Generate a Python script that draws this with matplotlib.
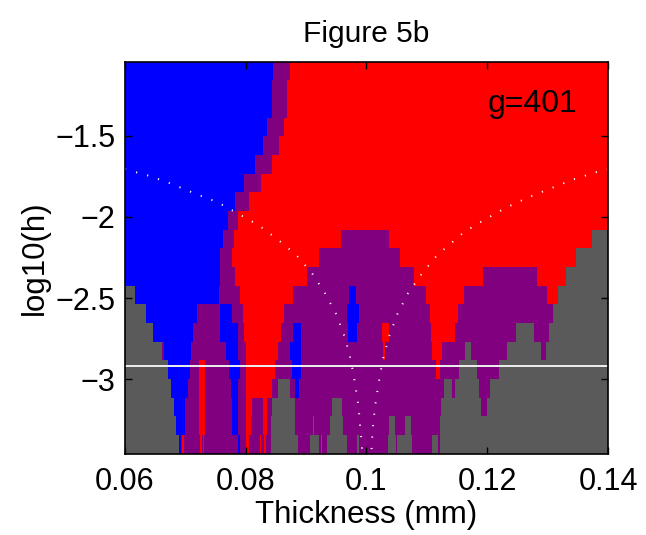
import numpy as np
import matplotlib
matplotlib.use("Agg")
import matplotlib.pyplot as plt
from matplotlib.colors import ListedColormap

plt.rcParams['font.family'] = ['Liberation Sans', 'DejaVu Sans']

# Thickness samples (g = 401 grid points) and log10(h) rows
thickness = np.linspace(0.06, 0.14, 401)
log10_h = [-1.100, -1.215, -1.330, -1.445, -1.560, -1.675, -1.790,
           -1.905, -2.020, -2.135, -2.250, -2.365, -2.480, -2.595,
           -2.710, -2.825, -2.940, -3.055, -3.170, -3.285, -3.400]

# Region classes: G = gray, B = blue, R = red, P = purple
class_order = ['G', 'B', 'R', 'P']
class_colors = ['#5a5a5a', '#0000ff', '#ff0000', '#800080']

# Each row: runs of (upper thickness bound, class), top row first
rows = [
    [(0.0845, 'B'), (0.0872, 'P'), (0.14, 'R')],
    [(0.0843, 'B'), (0.0869, 'P'), (0.14, 'R')],
    [(0.0842, 'B'), (0.0868, 'P'), (0.14, 'R')],
    [(0.0835, 'B'), (0.0863, 'P'), (0.14, 'R')],
    [(0.0829, 'B'), (0.0855, 'P'), (0.14, 'R')],
    [(0.0815, 'B'), (0.0843, 'P'), (0.14, 'R')],
    [(0.0797, 'B'), (0.0825, 'P'), (0.14, 'R')],
    [(0.0782, 'B'), (0.0804, 'P'), (0.14, 'R')],
    [(0.0770, 'B'), (0.0787, 'P'), (0.14, 'R')],
    [(0.0762, 'B'), (0.0781, 'P'), (0.0956, 'R'), (0.1036, 'P'),
     (0.1373, 'R'), (0.14, 'G')],
    [(0.0757, 'B'), (0.0777, 'P'), (0.0921, 'R'), (0.1055, 'P'),
     (0.1347, 'R'), (0.14, 'G')],
    [(0.0757, 'B'), (0.0782, 'P'), (0.0901, 'R'), (0.1080, 'P'),
     (0.1193, 'R'), (0.1284, 'P'), (0.1330, 'R'), (0.14, 'G')],
    [(0.0617, 'G'), (0.0754, 'B'), (0.0790, 'P'), (0.0878, 'R'),
     (0.0971, 'P'), (0.0983, 'B'), (0.1100, 'P'), (0.1160, 'R'),
     (0.1299, 'P'), (0.1317, 'R'), (0.14, 'G')],
    [(0.0635, 'G'), (0.0719, 'B'), (0.0757, 'P'), (0.0777, 'B'),
     (0.0795, 'P'), (0.0863, 'R'), (0.0966, 'P'), (0.0987, 'B'),
     (0.1105, 'P'), (0.1151, 'R'), (0.1309, 'P'), (0.14, 'G')],
    [(0.0646, 'G'), (0.0713, 'B'), (0.0757, 'P'), (0.0786, 'B'),
     (0.0797, 'P'), (0.0858, 'R'), (0.0878, 'P'), (0.0890, 'B'),
     (0.0968, 'P'), (0.0986, 'B'), (0.1024, 'P'), (0.1036, 'R'),
     (0.1108, 'P'), (0.1147, 'R'), (0.1248, 'P'), (0.1277, 'G'),
     (0.1302, 'P'), (0.14, 'G')],
    [(0.0661, 'G'), (0.0665, 'P'), (0.0708, 'B'), (0.0766, 'P'),
     (0.0787, 'B'), (0.0800, 'P'), (0.0853, 'R'), (0.0873, 'P'),
     (0.0890, 'B'), (0.1026, 'P'), (0.1032, 'R'), (0.1110, 'P'),
     (0.1125, 'R'), (0.1163, 'P'), (0.1173, 'G'), (0.1234, 'P'),
     (0.1289, 'G'), (0.1296, 'P'), (0.14, 'G')],
    [(0.0671, 'G'), (0.0706, 'B'), (0.0723, 'P'), (0.0733, 'R'),
     (0.0772, 'P'), (0.0790, 'B'), (0.0800, 'P'), (0.0848, 'R'),
     (0.0877, 'P'), (0.0890, 'B'), (0.1115, 'P'), (0.1122, 'R'),
     (0.1153, 'P'), (0.1183, 'G'), (0.1219, 'P'), (0.14, 'G')],
    [(0.0677, 'G'), (0.0704, 'B'), (0.0723, 'P'), (0.0733, 'R'),
     (0.0774, 'P'), (0.0787, 'B'), (0.0800, 'P'), (0.0842, 'R'),
     (0.0852, 'P'), (0.0873, 'G'), (0.0880, 'P'), (0.0888, 'B'),
     (0.1130, 'P'), (0.1142, 'G'), (0.1148, 'P'), (0.1188, 'G'),
     (0.1206, 'P'), (0.14, 'G')],
    [(0.0681, 'G'), (0.0699, 'B'), (0.0723, 'P'), (0.0733, 'R'),
     (0.0776, 'P'), (0.0787, 'B'), (0.0800, 'P'), (0.0810, 'R'),
     (0.0829, 'P'), (0.0834, 'R'), (0.0843, 'P'), (0.0880, 'G'),
     (0.0944, 'P'), (0.0958, 'G'), (0.1123, 'P'), (0.1190, 'G'),
     (0.1200, 'P'), (0.14, 'G')],
    [(0.0685, 'G'), (0.0699, 'B'), (0.0723, 'P'), (0.0733, 'R'),
     (0.0777, 'P'), (0.0787, 'B'), (0.0800, 'P'), (0.0809, 'R'),
     (0.0829, 'P'), (0.0834, 'R'), (0.0840, 'P'), (0.0880, 'G'),
     (0.0911, 'P'), (0.0913, 'G'), (0.0938, 'P'), (0.0961, 'G'),
     (0.1037, 'P'), (0.1047, 'G'), (0.1064, 'P'), (0.1072, 'G'),
     (0.1122, 'P'), (0.14, 'G')],
    [(0.0688, 'G'), (0.0689, 'R'), (0.0693, 'B'), (0.0694, 'P'),
     (0.0696, 'R'), (0.0718, 'P'), (0.0719, 'B'), (0.0724, 'P'),
     (0.0726, 'R'), (0.0728, 'P'), (0.0731, 'R'), (0.0786, 'P'),
     (0.0790, 'B'), (0.0800, 'P'), (0.0805, 'R'), (0.0822, 'P'),
     (0.0824, 'R'), (0.0830, 'P'), (0.0832, 'R'), (0.0840, 'P'),
     (0.0887, 'G'), (0.0906, 'P'), (0.0920, 'G'), (0.0925, 'P'),
     (0.0926, 'G'), (0.0935, 'P'), (0.0966, 'G'), (0.0984, 'P'),
     (0.0987, 'G'), (0.1034, 'P'), (0.1050, 'G'), (0.1052, 'P'),
     (0.1075, 'G'), (0.1110, 'P'), (0.1120, 'G'), (0.1122, 'P'),
     (0.14, 'G')],
]

# Dotted resonance curves
left_curve_t = [0.0600, 0.0641, 0.0679, 0.0715, 0.0752, 0.0787, 0.0822,
                0.0853, 0.0884, 0.0910, 0.0931, 0.0950, 0.0964, 0.0974,
                0.0981, 0.0987, 0.0990, 0.0992, 0.0993]
left_curve_logh = [-1.706, -1.748, -1.799, -1.855, -1.907, -1.979, -2.053,
                   -2.139, -2.236, -2.348, -2.469, -2.600, -2.740, -2.881,
                   -3.026, -3.172, -3.319, -3.391, -3.457]
right_curve_t = [0.1400, 0.1378, 0.1340, 0.1304, 0.1267, 0.1231, 0.1196,
                 0.1162, 0.1132, 0.1117, 0.1092, 0.1069, 0.1051, 0.1037,
                 0.1027, 0.1020, 0.1014, 0.1010, 0.1009, 0.1008]
right_curve_logh = [-1.706, -1.727, -1.772, -1.826, -1.881, -1.943, -2.016,
                    -2.092, -2.188, -2.236, -2.348, -2.469, -2.600, -2.740,
                    -2.881, -3.026, -3.172, -3.319, -3.391, -3.457]

# Reference level
h_line = -2.918

xticks = [0.06, 0.08, 0.1, 0.12, 0.14]
xtick_labels = ['0.06', '0.08', '0.1', '0.12', '0.14']
yticks = [-3, -2.5, -2, -1.5]
ytick_labels = ['\u22123', '\u22122.5', '\u22122', '\u22121.5']

# Build class grid from runs
grid = np.zeros((len(log10_h), thickness.size), dtype=int)
for i, runs in enumerate(rows):
    ends = np.array([e for e, _ in runs])
    codes = np.array([class_order.index(c) for _, c in runs])
    idx = np.clip(np.searchsorted(ends, thickness, side='left'), 0, len(runs) - 1)
    grid[i] = codes[idx]

def edges(c):
    c = np.asarray(c, dtype=float)
    mid = (c[:-1] + c[1:]) / 2
    return np.concatenate([[c[0] - (mid[0] - c[0])], mid, [c[-1] + (c[-1] - mid[-1])]])

x_edges = edges(thickness)
y_edges = edges(log10_h)

fig = plt.figure(figsize=(6.46, 5.35), dpi=100)
ax = fig.add_axes([125 / 646, 1 - 453.5 / 535, 483 / 646, 392 / 535])

ax.pcolormesh(x_edges, y_edges, grid, cmap=ListedColormap(class_colors),
              vmin=-0.5, vmax=3.5, shading='flat')

dots = (0, (0.6, 5.3))
ax.plot(left_curve_t, left_curve_logh, color='white', lw=1.4, linestyle=dots)
ax.plot(right_curve_t, right_curve_logh, color='white', lw=1.4, linestyle=dots)
ax.axhline(h_line, color='#f0f0f0', lw=1.4)

ax.set_xlim(0.06, 0.14)
ax.set_ylim(min(y_edges), max(y_edges))
ax.set_xticks(xticks)
ax.set_xticklabels(xtick_labels)
ax.set_yticks(yticks)
ax.set_yticklabels(ytick_labels)
ax.tick_params(direction='in', length=5, width=1, top=True, right=True,
               labelsize=22, colors='black')
ax.tick_params(axis='x', pad=10)
ax.tick_params(axis='y', pad=7)
for s in ax.spines.values():
    s.set_linewidth(1.2)
    s.set_color('black')

ax.text(0.1200, -1.352, 'g=401', fontsize=23, ha='left', va='baseline')
ax.set_title('Figure 5b', fontsize=21.5, pad=14)
ax.set_xlabel('Thickness (mm)', fontsize=22.5, labelpad=2)
ax.set_ylabel('log10(h)', fontsize=22.5, labelpad=4)

fig.savefig('out.png', dpi=100)
